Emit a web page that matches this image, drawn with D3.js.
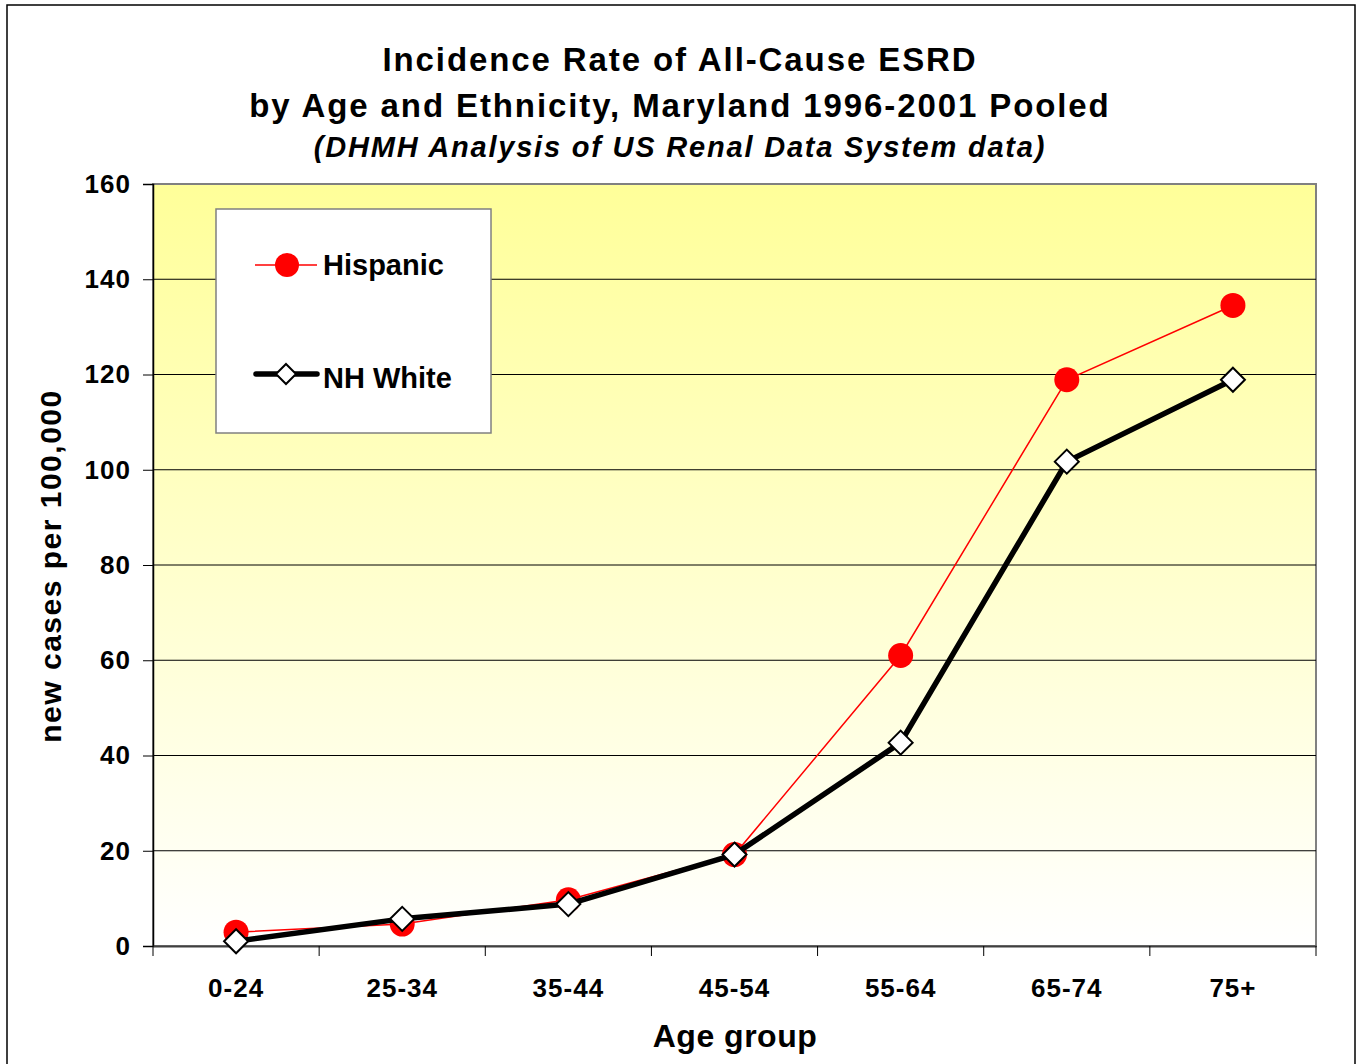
<!DOCTYPE html>
<html><head><meta charset="utf-8">
<script src="https://cdn.jsdelivr.net/npm/d3@7"></script>
<style>body{margin:0;background:#fff;} text{font-family:"Liberation Sans",Arial,sans-serif;font-weight:bold;}</style>
</head><body>
<svg id="c" width="1358" height="1064"></svg>
<script>
const categories = ["0-24","25-34","35-44","45-54","55-64","65-74","75+"];
const hispanic = [2.9, 4.6, 9.7, 19.2, 61.0, 118.9, 134.5];
const nhWhite = [1.0, 5.7, 8.8, 19.2, 42.7, 101.7, 118.9];
const yTicks = [0,20,40,60,80,100,120,140,160];

const svg = d3.select("#c");
const L=153, T=184, R=1316, B=946;

// outer border
svg.append("rect").attr("x",7).attr("y",5).attr("width",1348).attr("height",1075)
  .attr("fill","#fff").attr("stroke","#000").attr("stroke-width",1.5);

const defs = svg.append("defs");
const g = defs.append("linearGradient").attr("id","bg").attr("x1",0).attr("y1",0).attr("x2",0).attr("y2",1);
g.append("stop").attr("offset","0%").attr("stop-color","#FFFF99");
g.append("stop").attr("offset","100%").attr("stop-color","#FFFFFF");

const x = d3.scaleBand().domain(categories).range([L,R]);
const y = d3.scaleLinear().domain([0,160]).range([B,T]);

svg.append("rect").attr("x",L).attr("y",T).attr("width",R-L).attr("height",B-T)
  .attr("fill","url(#bg)").attr("stroke","#808080").attr("stroke-width",2);

// gridlines
svg.append("g").selectAll("line").data(yTicks.filter(d=>d>0&&d<160)).join("line")
  .attr("x1",L).attr("x2",R).attr("y1",d=>y(d)).attr("y2",d=>y(d))
  .attr("stroke","#000").attr("stroke-width",1);

// y axis
const ya = svg.append("g").attr("transform",`translate(${L},0)`)
  .call(d3.axisLeft(y).tickValues(yTicks).tickSize(10).tickPadding(12));
ya.select(".domain").attr("stroke","#000").attr("stroke-width",1.5);
ya.selectAll(".tick line").attr("stroke","#000");
ya.selectAll(".tick text").attr("font-size",26).attr("letter-spacing",1).attr("fill","#000");

// x axis
const xa = svg.append("g").attr("transform",`translate(0,${B})`)
  .call(d3.axisBottom(x).tickSize(0).tickPadding(33));
xa.select(".domain").attr("stroke","#404040").attr("stroke-width",2);
xa.selectAll(".tick text").attr("font-size",26).attr("letter-spacing",1).attr("fill","#000");
const bounds = categories.map(c=>x(c)).concat([R]);
svg.append("g").selectAll("line").data(bounds).join("line")
  .attr("x1",d=>d).attr("x2",d=>d).attr("y1",B).attr("y2",B+10)
  .attr("stroke","#000").attr("stroke-width",1);

const cx = c => x(c)+x.bandwidth()/2;
const line = d3.line().x((d,i)=>cx(categories[i])).y(d=>y(d));

// Hispanic
svg.append("path").datum(hispanic).attr("d",line).attr("fill","none")
  .attr("stroke","#FF0000").attr("stroke-width",1.5);
svg.append("g").selectAll("circle").data(hispanic).join("circle")
  .attr("cx",(d,i)=>cx(categories[i])).attr("cy",d=>y(d)).attr("r",12.5).attr("fill","#FF0000");

// NH White
svg.append("path").datum(nhWhite).attr("d",line).attr("fill","none")
  .attr("stroke","#000").attr("stroke-width",5.5).attr("stroke-linejoin","round");
const diamond = s => `M0,${-s}L${s},0L0,${s}L${-s},0Z`;
svg.append("g").selectAll("path").data(nhWhite).join("path")
  .attr("transform",(d,i)=>`translate(${cx(categories[i])},${y(d)})`)
  .attr("d",diamond(12)).attr("fill","#fff").attr("stroke","#000").attr("stroke-width",2);

// legend
svg.append("rect").attr("x",216).attr("y",209).attr("width",275).attr("height",224)
  .attr("fill","#fff").attr("stroke","#808080").attr("stroke-width",1.5);
svg.append("line").attr("x1",255).attr("x2",317).attr("y1",265).attr("y2",265)
  .attr("stroke","#FF0000").attr("stroke-width",1.5);
svg.append("circle").attr("cx",287).attr("cy",265).attr("r",12).attr("fill","#FF0000");
svg.append("text").attr("x",323).attr("y",275).attr("font-size",29).text("Hispanic");
svg.append("line").attr("x1",256).attr("x2",317).attr("y1",374).attr("y2",374)
  .attr("stroke","#000").attr("stroke-width",5.5).attr("stroke-linecap","round");
svg.append("path").attr("transform","translate(286,374)").attr("d",diamond(10))
  .attr("fill","#fff").attr("stroke","#000").attr("stroke-width",2);
svg.append("text").attr("x",323).attr("y",388).attr("font-size",29).text("NH White");

// titles
svg.append("text").attr("x",680).attr("y",71).attr("text-anchor","middle").attr("font-size",33)
  .attr("letter-spacing",1.9).text("Incidence Rate of All-Cause ESRD");
svg.append("text").attr("x",680).attr("y",117).attr("text-anchor","middle").attr("font-size",33)
  .attr("letter-spacing",1.9).text("by Age and Ethnicity, Maryland 1996-2001 Pooled");
svg.append("text").attr("x",680).attr("y",157).attr("text-anchor","middle").attr("font-size",29)
  .attr("letter-spacing",1.8).attr("font-style","italic").text("(DHMH Analysis of US Renal Data System data)");

svg.append("text").attr("x",735).attr("y",1047).attr("text-anchor","middle").attr("font-size",32)
  .attr("letter-spacing",0.5).text("Age group");
svg.append("text").attr("transform","translate(61,566) rotate(-90)").attr("text-anchor","middle")
  .attr("font-size",30).attr("letter-spacing",1.5).text("new cases per 100,000");
</script>
</body></html>
